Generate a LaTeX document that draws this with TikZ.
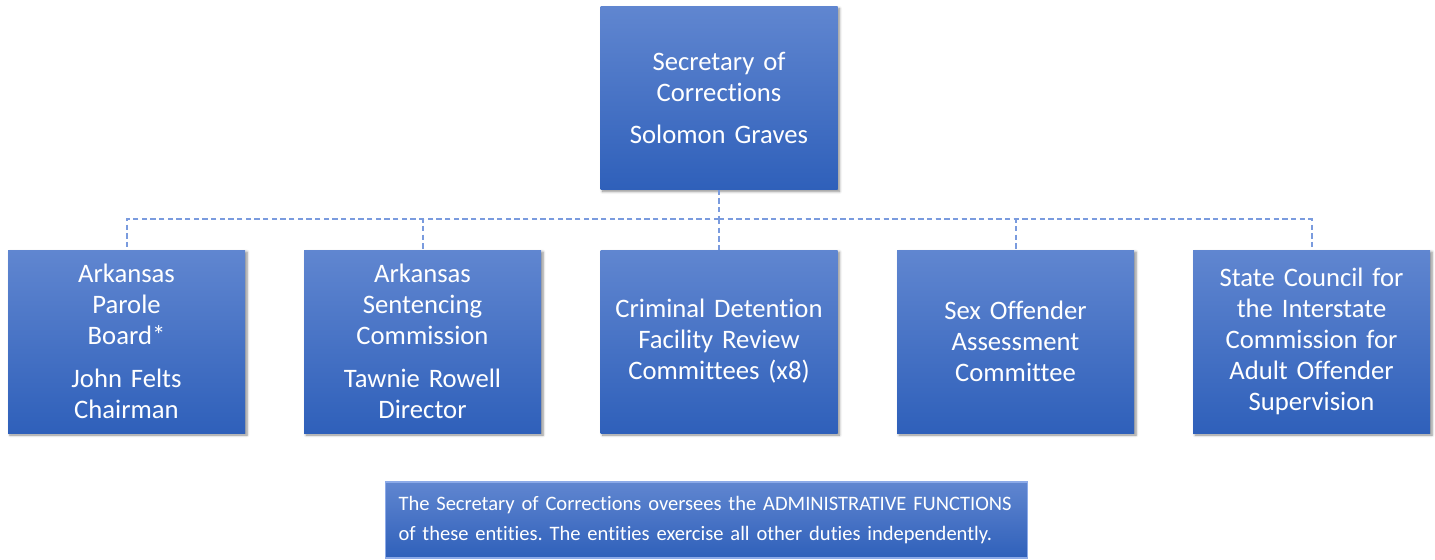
\documentclass[tikz,border=0pt]{standalone}
\usepackage{fontspec}
\setmainfont[Ligatures=CommonOff]{Carlito}
\usepackage{tikz}
\usetikzlibrary{shadows.blur}
\frenchspacing

\definecolor{boxtop}{RGB}{96,134,208}
\definecolor{boxbot}{RGB}{47,96,186}
\definecolor{linkblue}{RGB}{122,155,222}
\definecolor{noteline}{RGB}{140,170,232}

\tikzset{
  unit/.style={rectangle, inner sep=0pt, minimum width=177.75pt, minimum height=137.25pt,
    top color=boxtop, bottom color=boxbot, text=white, text width=170pt, align=center,
    font=\fontsize{20}{23.2}\selectfont,
    blur shadow={shadow xshift=1.5pt, shadow yshift=-1.5pt, shadow blur steps=6, shadow opacity=45}},
  note/.style={rectangle, inner sep=0pt, minimum width=482pt, minimum height=57pt,
    top color=boxtop, bottom color=boxbot, draw=noteline, line width=0.8pt, text=white,
    text width=462pt, align=left, font=\fontsize{15.4}{21.8}\selectfont},
  link/.style={draw=linkblue, line width=1.5pt, dash pattern=on 4pt off 2.5pt}
}

\begin{document}
\begin{tikzpicture}[x=0.75pt,y=0.75pt,yscale=-1,xscale=1]
\path[use as bounding box] (0,0) rectangle (1435,560);

%Shape: Rectangle [top]
\node[unit] (sec) at (719,98) {Secretary of\\Corrections\\[9pt]Solomon Graves};

%Shape: Rectangle [entities]
\node[unit] (parole) at (126.5,341.5) {Arkansas\\Parole\\Board*\\[9pt]John Felts\\Chairman};
\node[unit] (sentencing) at (422.5,341.5) {Arkansas\\Sentencing\\Commission\\[9pt]Tawnie Rowell\\Director};
\node[unit] (detention) at (719,341.5) {Criminal Detention\\Facility Review\\Committees (x8)};
\node[unit] (offender) at (1015.5,341.5) {Sex Offender\\Assessment\\Committee};
\node[unit] (council) at (1311.5,341.5) {State Council for\\the Interstate\\Commission for\\Adult Offender\\Supervision};

%Straight Lines [dashed links]
\coordinate (bus) at (719,219);
\draw[link] (sec.south) -- (bus);
\foreach \e in {parole,sentencing,detention,offender,council}
  \draw[link] (bus) -| (\e.north);

%Shape: Rectangle [note]
\node[note] (remark) at (706.5,520) {The Secretary of Corrections oversees the ADMINISTRATIVE FUNCTIONS\\of these entities. The entities exercise all other duties independently.};
\end{tikzpicture}
\end{document}
